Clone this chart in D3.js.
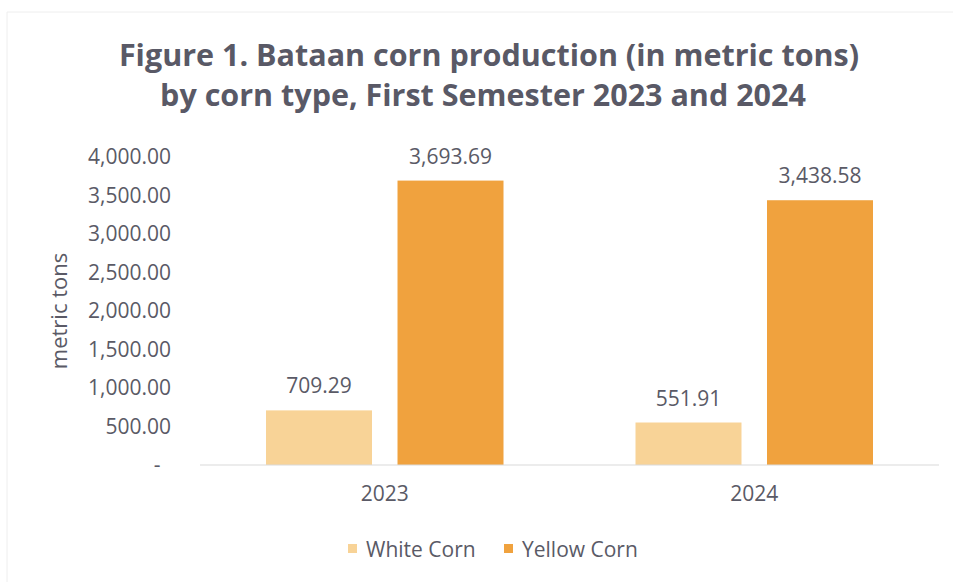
<!DOCTYPE html>
<html>
<head>
<meta charset="utf-8">
<script src="https://cdn.jsdelivr.net/npm/d3@7"></script>
<style>
  html, body { margin: 0; padding: 0; background: #ffffff; }
  svg { display: block; }
  text { font-family: "Open Sans", Lato, "Noto Sans", sans-serif; fill: #5a5a66; }
</style>
</head>
<body>
<svg id="chart" width="953" height="582"></svg>
<script>
// Corn production by type, first semester of each year (metric tons)
const years = ["2023", "2024"];
const cornTypes = ["White Corn", "Yellow Corn"];
const whiteCorn = [709.29, 551.91];
const yellowCorn = [3693.69, 3438.58];
const yTicks = [0, 500, 1000, 1500, 2000, 2500, 3000, 3500, 4000];
const titleLines = [
  "Figure 1. Bataan corn production (in metric tons)",
  "by corn type, First Semester 2023 and 2024"
];
const typeColors = ["#f8d397", "#f0a23e"];

const seriesByType = [whiteCorn, yellowCorn];
const rows = years.map((yr, i) => ({
  year: yr,
  values: cornTypes.map((t, j) => ({ type: t, idx: j, value: seriesByType[j][i] }))
}));

const svg = d3.select("#chart");
const labelSize = "21px";

// faint frame edges along the top and left
svg.append("line").attr("x1", 7).attr("x2", 953).attr("y1", 12).attr("y2", 12)
  .attr("stroke", "#eeeeee").attr("stroke-width", 1);
svg.append("line").attr("x1", 7).attr("x2", 7).attr("y1", 12).attr("y2", 582)
  .attr("stroke", "#eeeeee").attr("stroke-width", 1);

const plot = { left: 200, right: 939, top: 157, bottom: 465 };

const x0 = d3.scaleBand().domain(years).range([plot.left, plot.right]).padding(0);
const x1 = d3.scaleBand().domain(cornTypes)
  .range([66, x0.bandwidth() - 66]).paddingInner(0.194).paddingOuter(0);
const y = d3.scaleLinear().domain([0, 4000]).range([plot.bottom, plot.top]);

// title
const titleX = [489, 483];
const titleY = [66, 106];
svg.selectAll(".title")
  .data(titleLines).enter().append("text")
  .attr("class", "title")
  .attr("x", (d, i) => titleX[i])
  .attr("y", (d, i) => titleY[i])
  .attr("text-anchor", "middle")
  .style("font-weight", "700")
  .style("font-size", "30.5px")
  .style("fill", "#595966")
  .text(d => d);

// y axis (labels only)
const fmt = d3.format(",.2f");
const yAxis = svg.append("g")
  .attr("transform", `translate(${plot.left},0)`)
  .call(d3.axisLeft(y).tickValues(yTicks).tickSize(0).tickPadding(29)
    .tickFormat(d => d === 0 ? "-" : fmt(d)));
yAxis.select(".domain").remove();
yAxis.selectAll("text")
  .style("font-size", labelSize)
  .style("fill", "#5a5a66")
  .attr("font-family", null);
yAxis.selectAll(".tick").filter(d => d === 0).select("text")
  .attr("text-anchor", "middle").attr("x", -43);

// y axis title
svg.append("text")
  .attr("transform", `translate(67,311) rotate(-90)`)
  .attr("text-anchor", "middle")
  .style("font-size", "22px")
  .text("metric tons");

// bars
const groups = svg.selectAll(".year")
  .data(rows).enter().append("g")
  .attr("class", "year")
  .attr("transform", d => `translate(${x0(d.year)},0)`);

groups.selectAll("rect")
  .data(d => d.values).enter().append("rect")
  .attr("x", d => x1(d.type))
  .attr("width", x1.bandwidth())
  .attr("y", d => y(d.value))
  .attr("height", d => y(0) - y(d.value))
  .attr("fill", d => typeColors[d.idx]);

groups.selectAll(".val")
  .data(d => d.values).enter().append("text")
  .attr("class", "val")
  .attr("x", d => x1(d.type) + x1.bandwidth() / 2)
  .attr("y", d => y(d.value) - 17)
  .attr("text-anchor", "middle")
  .style("font-size", labelSize)
  .text(d => fmt(d.value));

// category axis
svg.append("line")
  .attr("x1", plot.left).attr("x2", plot.right)
  .attr("y1", y(0)).attr("y2", y(0))
  .attr("stroke", "#d9d9d9").attr("stroke-width", 1.2);

const xAxis = svg.append("g")
  .attr("transform", `translate(0,${y(0)})`)
  .call(d3.axisBottom(x0).tickSize(0).tickPadding(21));
xAxis.select(".domain").remove();
xAxis.selectAll("text")
  .style("font-size", labelSize)
  .style("fill", "#5a5a66")
  .attr("font-family", null);

// legend
const legendX = [348, 504];
const legend = svg.selectAll(".legend")
  .data(cornTypes).enter().append("g")
  .attr("class", "legend")
  .attr("transform", (d, i) => `translate(${legendX[i]},544)`);
legend.append("rect")
  .attr("width", 9).attr("height", 9)
  .attr("fill", (d, i) => typeColors[i]);
legend.append("text")
  .attr("x", 18).attr("y", 13)
  .style("font-size", labelSize)
  .text(d => d);
</script>
</body>
</html>
